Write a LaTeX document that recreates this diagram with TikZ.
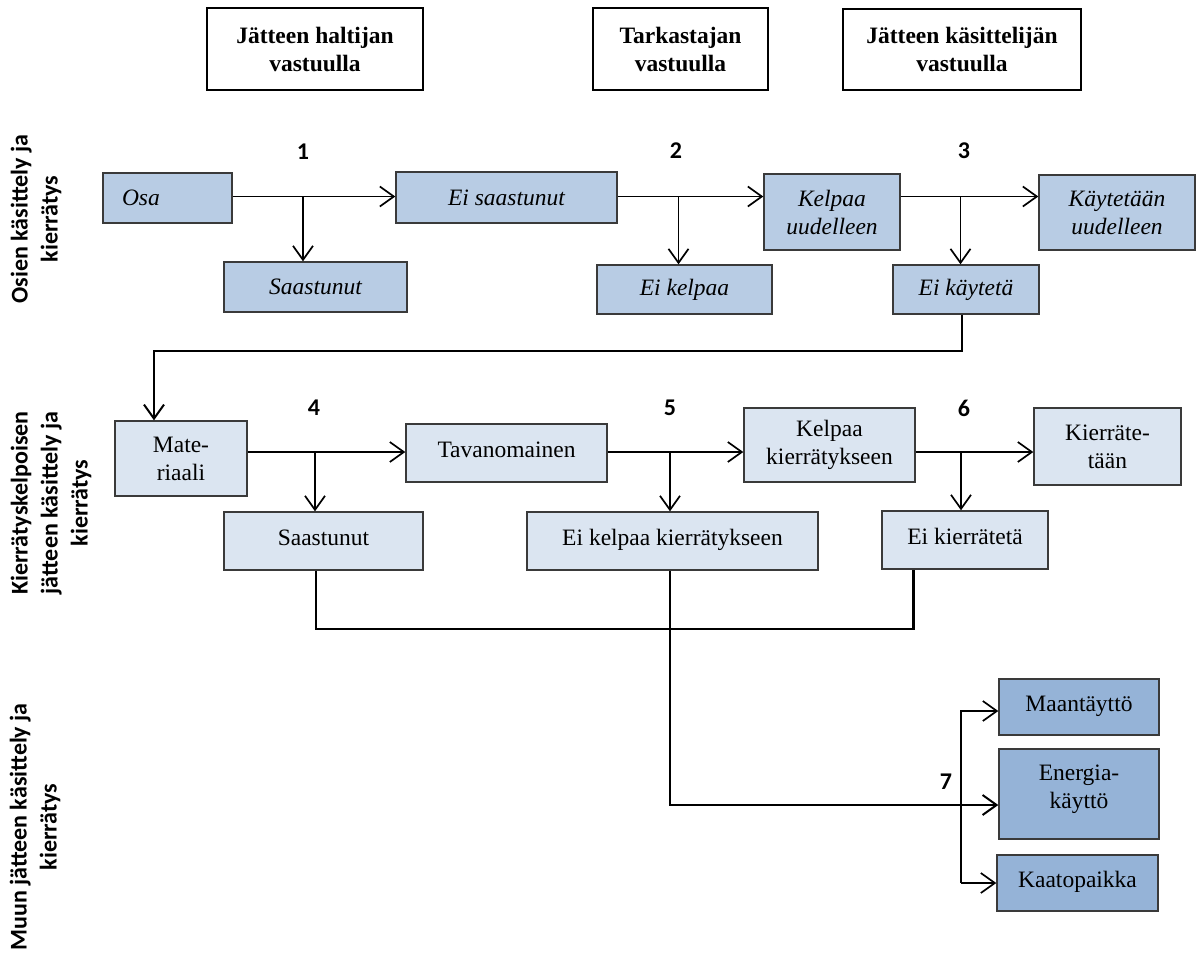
\documentclass[tikz,border=0pt]{standalone}
\usepackage{fontspec}
\setmainfont{Liberation Serif}
\newfontfamily\calfont{Carlito}
\usetikzlibrary{arrows.meta}
\definecolor{fillA}{HTML}{B8CCE4}
\definecolor{fillB}{HTML}{DBE5F1}
\definecolor{fillC}{HTML}{95B3D7}
\definecolor{edge}{HTML}{3A3A3A}
\tikzset{
  sz/.style 2 args={minimum width=#1pt, minimum height=#2pt},
  boxbase/.style={draw=edge, line width=1.4pt, inner sep=0pt, align=center,
    font=\fontsize{23.5}{28}\selectfont},
  hdr/.style={boxbase, draw=black, fill=white, font=\fontsize{23.5}{28}\selectfont\bfseries},
  boxA/.style={boxbase, fill=fillA, font=\fontsize{23.5}{28}\selectfont\itshape},
  boxB/.style={boxbase, fill=fillB},
  boxC/.style={boxbase, fill=fillC},
  lift/.style={text height=17pt, text depth=8pt},
  num/.style={font=\calfont\bfseries\fontsize{24}{28}\selectfont, inner sep=0pt},
  side/.style={font=\calfont\bfseries\fontsize{24}{30}\selectfont, align=center, rotate=90, inner sep=0pt},
  arr/.style={line width=1.7pt, -{Straight Barb[length=14pt,width=20pt,line width=1.7pt]}},
  link/.style={line width=2.4pt},
  arrlink/.style={line width=2.4pt, -{Straight Barb[length=14pt,width=20pt,line width=2pt]}},
}
\begin{document}
\begin{tikzpicture}[x=1pt, y=-1pt]
\useasboundingbox (0,0) rectangle (1203,954);

% header boxes
\node[hdr, sz={216}{82}] (h1) at (315,49) {Jätteen haltijan\\vastuulla};
\node[hdr, sz={175}{82}] (h2) at (680.5,49) {Tarkastajan\\vastuulla};
\node[hdr, sz={238}{81}] (h3) at (962,49.5) {Jätteen käsittelijän\\vastuulla};

% side labels
\node[side] (s1) at (36,219) {Osien käsittely ja\\kierrätys};
\node[side] (s2) at (51,503) {Kierrätyskelpoisen\\jätteen käsittely ja\\kierrätys};
\node[side] (s3) at (35,827) {Muun jätteen käsittely ja\\kierrätys};

% row 1
\node[boxA, text width=91pt, align=left, inner xsep=19pt, minimum height=50pt] (osa) at (167.5,198) {Osa};
\node[boxA, sz={221}{51}] (es) at (506.5,197.5) {Ei saastunut};
\node[boxA, sz={183}{50}] (sa1) at (315.5,287) {Saastunut};
\node[boxA, sz={136}{76}] (ku) at (832,212) {Kelpaa\\uudelleen};
\node[boxA, sz={175}{49}] (ek) at (684.5,289.5) {Ei kelpaa};
\node[boxA, sz={156}{75}] (kay) at (1117,212.5) {Käytetään\\uudelleen};
\node[boxA, sz={146}{49}] (ekt) at (966,289.5) {Ei käytetä};

% row 2
\node[boxB, sz={132}{75}] (mat) at (181,458.5) {Mate-\\riaali};
\node[boxB, lift, sz={201}{58}] (tav) at (506.5,453) {Tavanomainen};
\node[boxB, lift, sz={199}{58}] (sa2) at (323.5,541) {Saastunut};
\node[boxB, sz={171}{74}] (kk) at (829.5,445) {Kelpaa\\kierrätykseen};
\node[boxB, lift, sz={291}{58}] (ekk) at (672.5,541) {Ei kelpaa kierrätykseen};
\node[boxB, sz={147}{77}] (kt) at (1107.5,446.5) {Kierräte-\\tään};
\node[boxB, lift, sz={166}{58}] (ekr) at (965,540) {Ei kierrätetä};

% row 3
\node[boxC, lift, sz={160}{56}] (maa) at (1079,707) {Maantäyttö};
\node[boxC, text depth=14pt, sz={160}{90}] (ene) at (1079,794) {Energia-\\käyttö};
\node[boxC, lift, sz={161}{56}] (kaa) at (1077.5,883) {Kaatopaikka};

% numbers
\node[num] (n1) at (303,152) {1};
\node[num] (n2) at (676,151) {2};
\node[num] (n3) at (964,151) {3};
\node[num] (n4) at (314,408) {4};
\node[num] (n5) at (670,408) {5};
\node[num] (n6) at (964,408) {6};
\node[num] (n7) at (946,782) {7};

% helper coordinates
\coordinate (r1) at (0,196.5);
\coordinate (r2) at (0,452);
\coordinate (b1) at (303,196.5);
\coordinate (b2) at (678.5,196.5);
\coordinate (b3) at (960.5,196.5);
\coordinate (b4) at (315,452);
\coordinate (b5) at (670,452);
\coordinate (b6) at (961,452);
\coordinate (c1) at (962,351);
\coordinate (c2) at (154,351);
\coordinate (d1) at (316,629);
\coordinate (d2) at (913.5,629);
\coordinate (d3) at (670,805);
\coordinate (e1) at (961,711);
\coordinate (e2) at (961,883);

% row 1 connectors
\draw[arr] (osa.east |- r1) -- (es.west |- r1);
\draw[arr] (b1) -- (b1 |- sa1.north);
\draw[arr] (es.east |- r1) -- (ku.west |- r1);
\draw[arr] (b2) -- (b2 |- ek.north);
\draw[arr] (ku.east |- r1) -- (kay.west |- r1);
\draw[arr] (b3) -- (b3 |- ekt.north);

% link to row 2
\draw[arrlink] (c1 |- ekt.south) -- (c1) -- (c2) -- (c2 |- mat.north);

% row 2 connectors
\draw[arr] (mat.east |- r2) -- (tav.west |- r2);
\draw[arr] (b4) -- (b4 |- sa2.north);
\draw[arr] (tav.east |- r2) -- (kk.west |- r2);
\draw[arr] (b5) -- (b5 |- ekk.north);
\draw[arr] (kk.east |- r2) -- (kt.west |- r2);
\draw[arr] (b6) -- (b6 |- ekr.north);

% bottom connectors
\draw[link] (d1 |- sa2.south) -- (d1) -- (d2) -- (d2 |- ekr.south);
\draw[arrlink] (d3 |- ekk.south) -- (d3) -- (d3 -| ene.west);
\draw[arr] (e2) -- (e1) -- (e1 -| maa.west);
\draw[arr] (e2) -- (e2 -| kaa.west);
\end{tikzpicture}
\end{document}
